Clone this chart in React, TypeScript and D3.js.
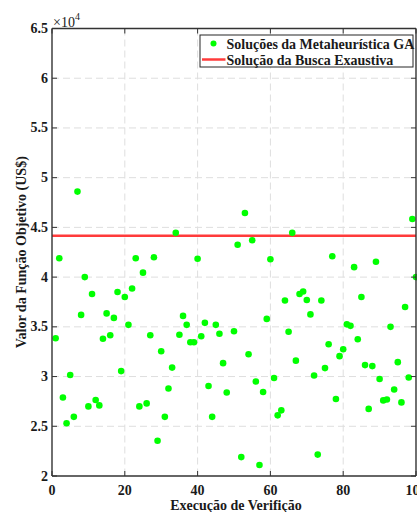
import React from "react";
import * as d3 from "d3";

// Valores da função objetivo (US$) por execução 1..100 (null = sem ponto visível)
const gaValues: (number | null)[] = [
  33850, 41900, 27900, 25300, 30150, 25950, 48600, 36200, 40000, 27000,
  38300, 27650, 27100, 33800, 36350, 34150, 35900, 38500, 30550, 38000,
  35200, 38850, 41900, 27000, 40450, 27300, 34150, 42000, 23550, 32550,
  25950, 28800, 30900, 44450, 34200, 36100, 35200, 33450, 33450, 41850,
  34050, 35400, 29050, 25950, 35200, 34300, 31350, 28400, null, 34550,
  43250, 21900, 46450, 32250, 43700, 29500, 21100, 28450, 35800, 41800,
  29850, 26100, 26600, 37650, 34500, 44450, 31600, 38300, 38550, 37700,
  36250, 30100, 22150, 37650, 30850, 33250, 42100, 27750, 32050, 32750,
  35250, 35100, 41000, 33750, 38000, 31150, 26750, 31050, 41550, 29750,
  27600, 27700, 35000, 28700, 31450, 27400, 37000, 29900, 45850, 40000,
];
const exhaustiveValue = 44150;

const xTicks = [0, 20, 40, 60, 80, 100];
const yTicks = [2, 2.5, 3, 3.5, 4, 4.5, 5, 5.5, 6, 6.5];
const yTickLabels = ["2", "2.5", "3", "3.5", "4", "4.5", "5", "5.5", "6", "6.5"];
const legendLabels = ["Soluções da Metaheurística GA", "Solução da Busca Exaustiva"];
const xLabel = "Execução de Verifição";
const yLabel = "Valor da Função Objetivo (US$)";

const W = 417;
const H = 512;
const L = 52;
const R = 416;
const T = 28.5;
const B = 476;
const FONT = "'Liberation Serif', 'Times New Roman', serif";
const AX = "#333333";

export default function App() {
  const x = d3.scaleLinear().domain([0, 100]).range([L, R]);
  const y = d3.scaleLinear().domain([20000, 65000]).range([B, T]);
  const pts = gaValues
    .map((v, i) => ({ run: i + 1, v }))
    .filter((d) => d.v !== null) as { run: number; v: number }[];
  const tickLen = 5;

  return (
    <svg
      width={W}
      height={H}
      style={{ position: "absolute", left: 0, top: 0, background: "#fff" }}
      fontFamily={FONT}
      fontWeight="bold"
    >
      <rect x={0} y={0} width={W} height={H} fill="#fff" />
      {/* grid */}
      {xTicks.slice(1, -1).map((t) => (
        <line key={"gx" + t} x1={x(t)} x2={x(t)} y1={T} y2={B} stroke="#dedede" strokeWidth={1} strokeDasharray="7,4" />
      ))}
      {yTicks.slice(1, -1).map((t) => (
        <line key={"gy" + t} x1={L} x2={R} y1={y(t * 10000)} y2={y(t * 10000)} stroke="#dedede" strokeWidth={1} strokeDasharray="7,4" />
      ))}
      {/* exhaustive line */}
      <line x1={L} x2={R} y1={y(exhaustiveValue)} y2={y(exhaustiveValue)} stroke="#ff3b3b" strokeWidth={2.5} />
      {/* points */}
      {pts.map((d) => (
        <circle key={d.run} cx={x(d.run)} cy={y(d.v)} r={3.3} fill="#00ff00" />
      ))}
      {/* axes box */}
      <line x1={L} x2={R} y1={B} y2={B} stroke={AX} strokeWidth={1.4} />
      <line x1={L} x2={R} y1={T} y2={T} stroke={AX} strokeWidth={1.4} />
      <line x1={L} x2={L} y1={T} y2={B} stroke={AX} strokeWidth={1.4} />
      <line x1={R} x2={R} y1={T} y2={B} stroke={AX} strokeWidth={1.4} />
      {/* ticks */}
      {xTicks.map((t) => (
        <g key={"tx" + t}>
          <line x1={x(t)} x2={x(t)} y1={B} y2={B - tickLen} stroke={AX} strokeWidth={1} />
          <line x1={x(t)} x2={x(t)} y1={T} y2={T + tickLen} stroke={AX} strokeWidth={1} />
          <text x={x(t)} y={495} textAnchor="middle" fontSize={14} fill="#1a1a1a">
            {t}
          </text>
        </g>
      ))}
      {yTicks.map((t, i) => (
        <g key={"ty" + t}>
          <line x1={L} x2={L + tickLen} y1={y(t * 10000)} y2={y(t * 10000)} stroke={AX} strokeWidth={1} />
          <line x1={R} x2={R - tickLen} y1={y(t * 10000)} y2={y(t * 10000)} stroke={AX} strokeWidth={1} />
          <text x={48} y={y(t * 10000) + 4.5} textAnchor="end" fontSize={14} fill="#1a1a1a">
            {yTickLabels[i]}
          </text>
        </g>
      ))}
      {/* exponent */}
      <text x={53} y={27} fontSize={14} fontWeight="normal" fill="#1a1a1a">
        ×10
        <tspan dy={-7} fontSize={10}>4</tspan>
      </text>
      {/* labels */}
      <text x={236} y={510} textAnchor="middle" fontSize={14} fill="#1a1a1a">
        {xLabel}
      </text>
      <text
        transform={`translate(26, ${(T + B) / 2}) rotate(-90)`}
        textAnchor="middle"
        fontSize={14}
        fill="#1a1a1a"
      >
        {yLabel}
      </text>
      {/* legend */}
      <rect x={200} y={35} width={213} height={32} fill="#fff" stroke="#262626" strokeWidth={1} />
      <circle cx={213.5} cy={43.5} r={3} fill="#00ff00" />
      <line x1={202} x2={225.5} y1={59.5} y2={59.5} stroke="#ff3b3b" strokeWidth={2.5} />
      <text x={226.5} y={48.5} fontSize={14} fill="#1a1a1a">
        {legendLabels[0]}
      </text>
      <text x={226.5} y={64.5} fontSize={14} fill="#1a1a1a">
        {legendLabels[1]}
      </text>
    </svg>
  );
}
